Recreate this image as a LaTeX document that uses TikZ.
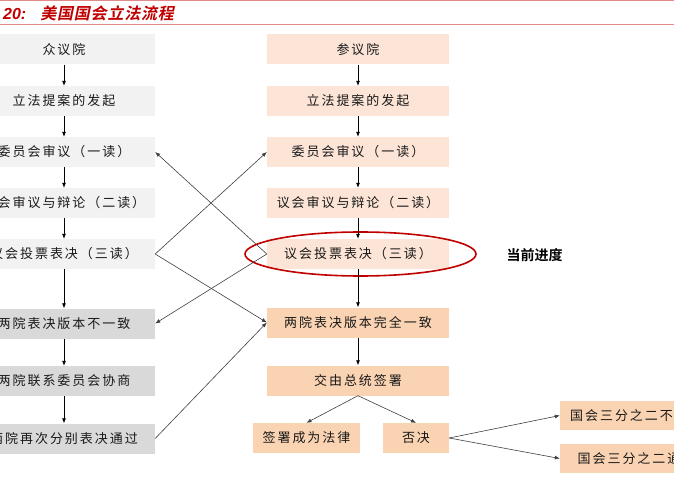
\documentclass[tikz,border=0pt]{standalone}
\usepackage{fontspec}
\usetikzlibrary{arrows.meta}
\newfontfamily\cjk[LetterSpace=15]{Noto Sans CJK SC}
\newfontfamily\cjktitle[FakeSlant=0.2,LetterSpace=5]{Noto Sans CJK SC Bold}
\newfontfamily\cjkbold{Noto Sans CJK SC Bold}
\newfontfamily\latintitle{Liberation Sans}
\definecolor{lgray}{HTML}{F2F2F2}
\definecolor{dgray}{HTML}{D9D9D9}
\definecolor{lpeach}{HTML}{FCE4D6}
\definecolor{dpeach}{HTML}{FAD3B2}
\definecolor{titlered}{HTML}{C00000}
\definecolor{rulepink}{HTML}{E08A8A}
\definecolor{linegray}{HTML}{404040}
\tikzset{
  box/.style={rectangle, inner sep=0pt, minimum width=182pt, minimum height=30pt,
    font=\cjk\fontsize{13}{15}\selectfont, text=black!90},
  lg/.style={box, fill=lgray},
  dg/.style={box, fill=dgray},
  lp/.style={box, fill=lpeach},
  dp/.style={box, fill=dpeach},
  varrow/.style={draw=black, line width=0.7pt, -{Latex[length=5pt,width=4pt]}},
  xarrow/.style={draw=linegray, line width=0.6pt, -{Latex[length=5pt,width=4pt]}},
}
\begin{document}
\begin{tikzpicture}[x=1pt,y=-1pt]
\useasboundingbox (0,0) rectangle (674,478);
\clip (0,0) rectangle (674,478);
\fill[white] (0,0) rectangle (674,478);
% title
\draw[rulepink, line width=1pt] (0,1) -- (674,1);
\draw[rulepink, line width=1pt] (0,25) -- (674,25);
\node[anchor=west, inner sep=0pt, text=titlered] (title) at (3,13)
  {{\latintitle\bfseries\itshape\fontsize{16}{18}\selectfont 20:}\hspace{14pt}{\cjktitle\fontsize{16}{18}\selectfont 美国国会立法流程}};
% left column
\node[lg] (L1) at (64,49.5) {众议院};
\node[lg] (L2) at (64,101) {立法提案的发起};
\node[lg] (L3) at (64,152) {委员会审议（一读）};
\node[lg] (L4) at (64,203) {议会审议与辩论（二读）};
\node[lg] (L5) at (64,254) {议会投票表决（三读）};
\node[dg] (L6) at (64,323.5) {两院表决版本不一致};
\node[dg] (L7) at (64,381) {两院联系委员会协商};
\node[dg] (L8) at (64,438.5) {两院再次分别表决通过};
% right column
\node[lp] (R1) at (358,49.5) {参议院};
\node[lp] (R2) at (358,101) {立法提案的发起};
\node[lp] (R3) at (358,152) {委员会审议（一读）};
\node[lp] (R4) at (358,203) {议会审议与辩论（二读）};
\node[lp] (R5) at (358,254) {议会投票表决（三读）};
\node[dp] (R6) at (358,322.5) {两院表决版本完全一致};
\node[dp] (R7) at (358,380.5) {交由总统签署};
\node[dp, minimum width=107pt] (law) at (306.5,438) {签署成为法律};
\node[dp, minimum width=66pt] (veto) at (416,438) {否决};
\node[dp, minimum width=153pt, minimum height=29pt] (fail) at (636.5,415.5) {国会三分之二不通过};
\node[dp, minimum width=153pt, minimum height=29pt] (pass) at (636.5,458.5) {国会三分之二通过};
% highlight
\draw[titlered, line width=1.6pt] (360.5,254) ellipse [x radius=115.5pt, y radius=22pt];
\node[font=\cjkbold\fontsize{14}{16}\selectfont, inner sep=0pt] (cur) at (534.5,255) {当前进度};
% vertical arrows
\foreach \a/\b in {L1/L2,L2/L3,L3/L4,L4/L5,L5/L6,L6/L7,L7/L8,R1/R2,R2/R3,R3/R4,R4/R5,R5/R6,R6/R7}
  \draw[varrow] (\a.south) -- (\b.north);
% cross arrows
\draw[xarrow] (L5.east) -- (R3.west);
\draw[xarrow] (L5.east) -- (R6.west);
\draw[xarrow] (R5.west) -- (L3.east);
\draw[xarrow] (R5.west) -- (L6.east);
\draw[xarrow] (L8.east) -- (R6.west);
% president branches
\draw[xarrow] (R7.south) -- (law.north);
\draw[xarrow] (R7.south) -- (veto.north);
\draw[xarrow] (veto.east) -- (fail.west);
\draw[xarrow] (veto.east) -- (pass.west);
\end{tikzpicture}
\end{document}
